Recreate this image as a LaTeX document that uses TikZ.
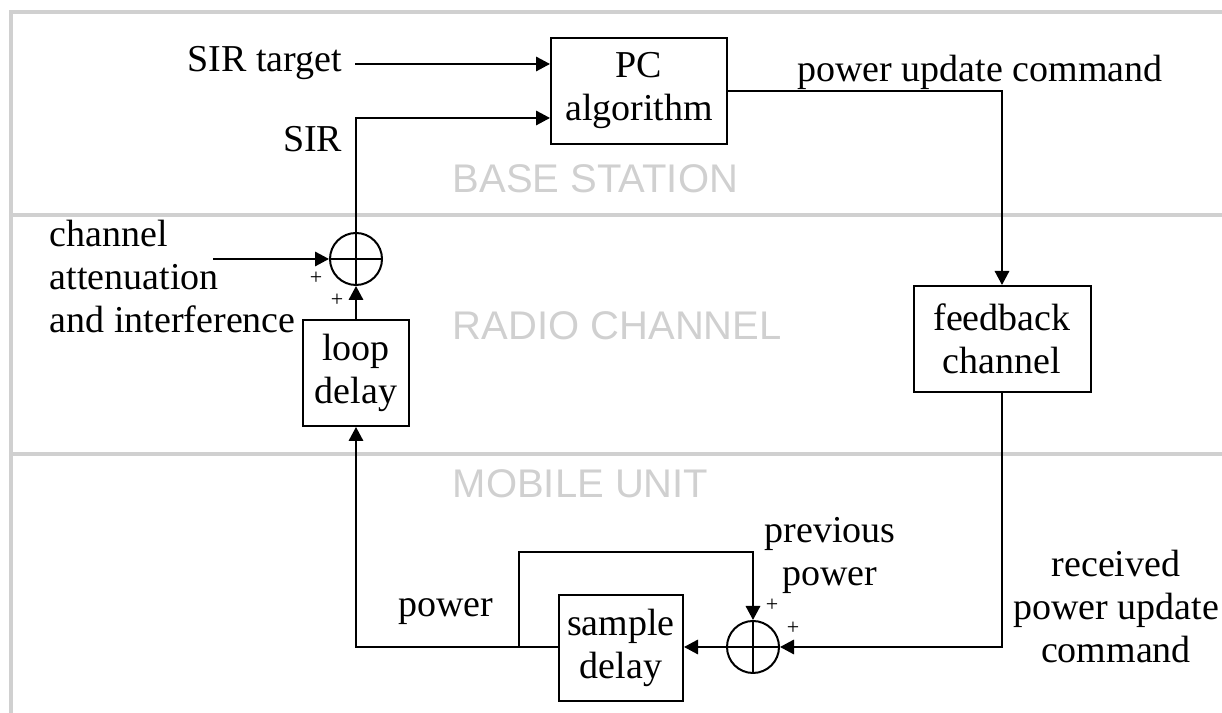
\documentclass[tikz,border=0pt]{standalone}
\usepackage{fontspec}
\setmainfont{Liberation Serif}
\newfontfamily\zonefont{Liberation Sans}
\usetikzlibrary{arrows.meta,calc}
\definecolor{zonegray}{RGB}{208,208,208}
\begin{document}
\begin{tikzpicture}[x=0.25pt,y=-0.25pt,
  every node/.style={font=\fontsize{9.5}{10.75}\selectfont},
  wire/.style={line width=0.5pt},
  arr/.style={wire,-{Triangle[length=3.5pt,width=3.6pt]}},
  blockbox/.style={draw,line width=0.5pt,align=center,inner sep=0pt,minimum height=26.5pt},
  sumnode/.style={circle,draw,line width=0.5pt,minimum size=13pt,inner sep=0pt,
    path picture={\draw[line width=0.5pt]
      (path picture bounding box.north) -- (path picture bounding box.south)
      (path picture bounding box.west) -- (path picture bounding box.east);}},
  lbl/.style={inner sep=0pt},
  plus/.style={inner sep=0pt,font=\fontsize{5.5}{6}\selectfont},
  zone/.style={inner sep=0pt,anchor=base west,text=zonegray,font=\zonefont\fontsize{10}{12}\selectfont},
  frame/.style={zonegray,line width=1pt}]
\useasboundingbox (0,0) rectangle (1222,713);

% zone frame and dividers
\draw[frame] (1222,12) -- (10.5,12) -- (10.5,713);
\draw[frame] (10.5,215) -- (1222,215);
\draw[frame] (10.5,454) -- (1222,454);
\node[zone] (bs) at (452,193) {BASE STATION};
\node[zone] (rc) at (452,340) {RADIO CHANNEL};
\node[zone] (mu) at (452,498) {MOBILE UNIT};

% blocks
\node[blockbox,minimum width=44pt] (pc) at (639,91) {PC\\algorithm};
\node[blockbox,minimum width=44.25pt] (fb) at (1002,339) {feedback\\channel};
\node[blockbox,minimum width=26.5pt] (loop) at (356,373) {loop\\delay};
\node[blockbox,minimum width=31pt] (sd) at (621,648) {sample\\delay};
\node[sumnode] (s1) at (356,259) {};
\node[sumnode] (s2) at (753,647) {};

% inputs of the PC algorithm
\coordinate (pcinA) at ($(pc.south west)!0.75!(pc.north west)$);
\coordinate (pcinB) at ($(pc.south west)!0.25!(pc.north west)$);

% labels
\node[lbl,anchor=base east] (tgt) at (343,72) {SIR target};
\node[lbl,anchor=base east] (sir) at (343,152) {SIR};
\node[lbl,anchor=base] (puc) at (980,82) {power update command};
\node[lbl,align=left,anchor=west] (chan) at (49,277) {channel\\attenuation\\and interference};
\node[lbl,anchor=base] (pw) at (446,617) {power};
\node[lbl,align=center] (prev) at (830,555) {previous\\power};
\node[lbl,align=center] (recv) at (1116,607) {received\\power update\\command};

% signs at the summing junctions
\node[plus] (p1) at (316,278) {+};
\node[plus] (p2) at (337,300) {+};
\node[plus] (p3) at (772,605) {+};
\node[plus] (p4) at (793,628) {+};

% connectors
\draw[arr] ([xshift=3pt]tgt.east |- pcinA) -- (pcinA);
\draw[arr] (s1.north) |- (pcinB);
\draw[arr] (pc.east) -| (fb.north);
\draw[arr] (fb.south) |- (s2.east);
\draw[arr] (s2.west) -- (s2.west -| sd.east);
\draw[arr] (s2.west -| sd.west) -| (loop.south);
\coordinate (br) at ($(s2.west -| sd.west)+(-39,0)$);
\draw[arr] (br) -- ++(0,-95) -| (s2.north);
\draw[arr] (loop.north) -- (s1.south);
\coordinate (chin) at (213,259);
\draw[arr] (chin) -- (s1.west);
\end{tikzpicture}
\end{document}
